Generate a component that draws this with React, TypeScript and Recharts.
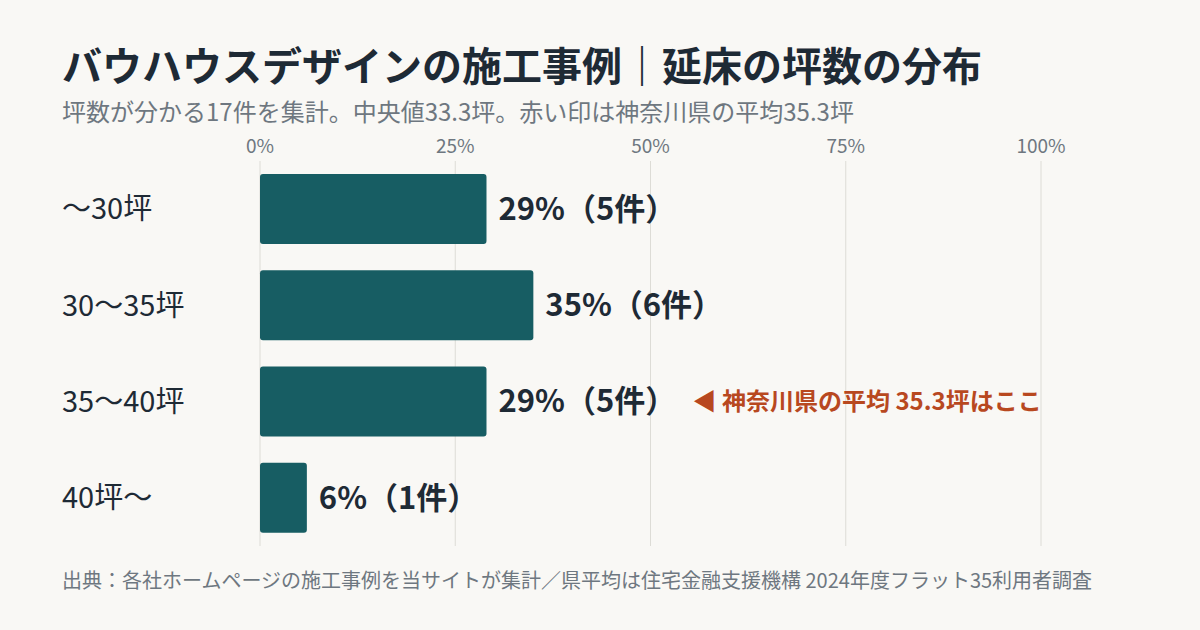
import { Bar, BarChart, CartesianGrid, LabelList, XAxis, YAxis } from "recharts";

const categories = ["〜30坪", "30〜35坪", "35〜40坪", "40坪〜"];
const shares = [29, 35, 29, 6];
const counts = [5, 6, 5, 1];
const xTicks = [0, 25, 50, 75, 100];
const prefAverageBin = "35〜40坪";
const prefAverageNote = "◀ 神奈川県の平均 35.3坪はここ";

const data = categories.map((bin, i) => ({ bin, share: shares[i], count: counts[i] }));

const FONT = '"Noto Sans CJK JP", "Noto Sans", sans-serif';
const INK = "#1e2a35";
const MUTED = "#6e7780";
const BAR = "#175d63";
const ACCENT = "#b8481f";
const LEFT = 62;

function CategoryTick(props: any) {
  const { y, payload } = props;
  return (
    <text x={LEFT} y={y} dy="0.35em" textAnchor="start" fill={INK} fontSize={29} fontFamily={FONT}>
      {payload.value}
    </text>
  );
}

function ValueLabel(props: any) {
  const { x, y, width, height, index } = props;
  const row = data[index];
  const lx = x + width + 12;
  const cy = y + height / 2;
  return (
    <g>
      <text x={lx} y={cy} dy="0.35em" fill={INK} fontSize={31} fontWeight={700} fontFamily={FONT}>
        {`${row.share}%（${row.count}件）`}
      </text>
      {row.bin === prefAverageBin && (
        <text x={lx + 194} y={cy} dy="0.35em" fill={ACCENT} fontSize={24} fontWeight={700} fontFamily={FONT}>
          {prefAverageNote}
        </text>
      )}
    </g>
  );
}

export default function App() {
  return (
    <div
      style={{
        position: "absolute",
        left: 0,
        top: 0,
        width: 1200,
        height: 630,
        background: "#f9f8f5",
        fontFamily: FONT,
        overflow: "hidden",
      }}
    >
      <div style={{ position: "absolute", left: LEFT, top: 36, fontSize: 40, fontWeight: 700, color: INK, whiteSpace: "nowrap", lineHeight: "56px" }}>
        バウハウスデザインの施工事例｜延床の坪数の分布
      </div>
      <div style={{ position: "absolute", left: LEFT, top: 94, fontSize: 24, color: MUTED, whiteSpace: "nowrap", lineHeight: "34px" }}>
        坪数が分かる17件を集計。中央値33.3坪。赤い印は神奈川県の平均35.3坪
      </div>
      <div style={{ position: "absolute", left: 0, top: 0 }}>
        <BarChart
          width={1200}
          height={630}
          data={data}
          layout="vertical"
          margin={{ top: 131, right: 159, bottom: 84, left: LEFT }}
        >
          <CartesianGrid horizontal={false} stroke="#dddcd6" strokeWidth={1} />
          <XAxis
            type="number"
            orientation="top"
            domain={[0, 100]}
            ticks={xTicks}
            height={30}
            axisLine={false}
            tickLine={false}
            tickFormatter={(v: number) => `${v}%`}
            tick={{ fill: MUTED, fontSize: 19, fontFamily: FONT }}
          />
          <YAxis
            type="category"
            dataKey="bin"
            width={198}
            axisLine={false}
            tickLine={false}
            tick={<CategoryTick />}
          />
          <Bar dataKey="share" fill={BAR} barSize={70} radius={3} isAnimationActive={false}>
            <LabelList dataKey="share" content={<ValueLabel />} />
          </Bar>
        </BarChart>
      </div>
      <div style={{ position: "absolute", left: LEFT, top: 566, fontSize: 20, color: MUTED, whiteSpace: "nowrap", lineHeight: "28px" }}>
        出典：各社ホームページの施工事例を当サイトが集計／県平均は住宅金融支援機構 2024年度フラット35利用者調査
      </div>
    </div>
  );
}
